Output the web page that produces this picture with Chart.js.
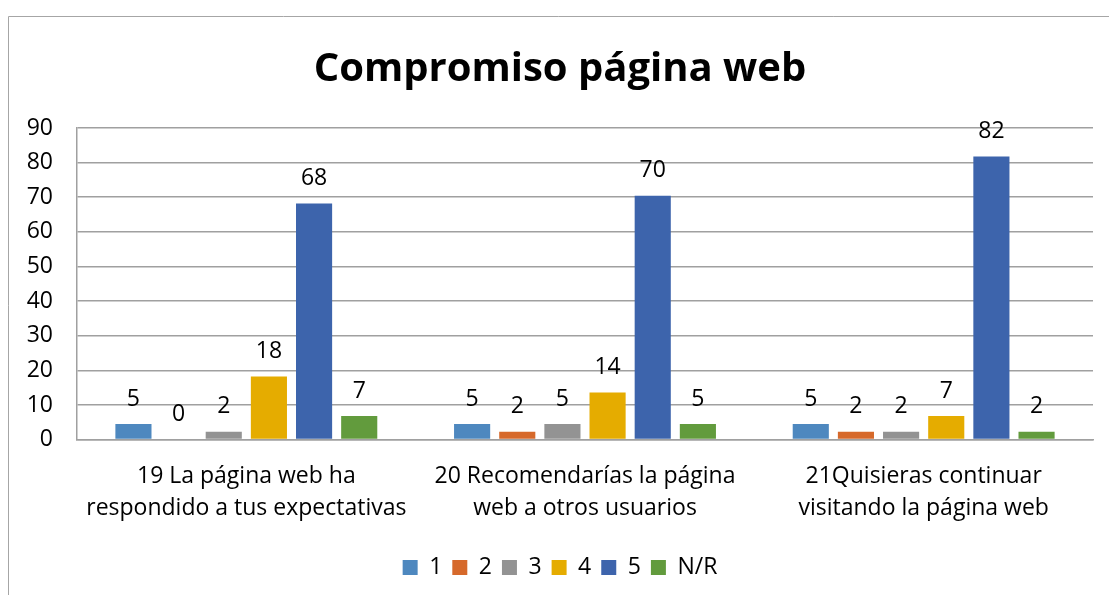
<!DOCTYPE html>
<html>
<head>
<meta charset="utf-8">
<script src="https://cdn.jsdelivr.net/npm/chart.js@4"></script>
<style>
  html, body { margin: 0; padding: 0; background: #fff; }
  #wrap { position: relative; width: 1109px; height: 595px; }
</style>
</head>
<body>
<div id="wrap"><canvas id="chart"></canvas></div>
<script>
// Compromiso página web - respuestas (%)
const categories = [
    ['19 La página web ha', 'respondido a tus expectativas'],
    ['20 Recomendarías la página', 'web a otros usuarios'],
    ['21Quisieras continuar', 'visitando la página web']
];
const seriesNames = ['1', '2', '3', '4', '5', 'N/R'];
const values1 = [4.5, 4.5, 4.5];
const values2 = [0, 2.3, 2.3];
const values3 = [2.3, 4.5, 2.3];
const values4 = [18.2, 13.6, 6.8];
const values5 = [68.2, 70.4, 81.8];
const valuesNR = [6.8, 4.5, 2.3];
const yTicks = [0, 10, 20, 30, 40, 50, 60, 70, 80, 90];

const colors = ['#4E88BF', '#D6692B', '#939393', '#E5AC00', '#3D64AC', '#629B3D'];
const FONT = "'Open Sans', 'Liberation Sans', sans-serif";
const TEXT_SIZE = 23;

// outer frame of the chart (left and top edges only visible)
const framePlugin = {
    id: 'frame',
    beforeDraw(chart) {
        const ctx = chart.ctx;
        ctx.save();
        ctx.strokeStyle = '#a6a6a6';
        ctx.lineWidth = 1;
        ctx.beginPath();
        ctx.moveTo(8.5, chart.height);
        ctx.lineTo(8.5, 16.5);
        ctx.lineTo(chart.width, 16.5);
        ctx.stroke();
        ctx.restore();
    }
};

// value labels above each bar
const barLabels = {
    id: 'barLabels',
    afterDatasetsDraw(chart) {
        const ctx = chart.ctx;
        ctx.save();
        ctx.font = TEXT_SIZE + 'px ' + FONT;
        ctx.fillStyle = '#000';
        ctx.textAlign = 'center';
        ctx.textBaseline = 'middle';
        chart.data.datasets.forEach((ds, i) => {
            const meta = chart.getDatasetMeta(i);
            meta.data.forEach((bar, j) => {
                ctx.fillText(String(Math.round(ds.data[j])), bar.x, bar.y - 25);
            });
        });
        ctx.restore();
    }
};

const allValues = [values1, values2, values3, values4, values5, valuesNR];

const chart = new Chart(document.getElementById('chart').getContext('2d'), {
    type: 'bar',
    data: {
        labels: categories,
        datasets: seriesNames.map((name, i) => ({
            label: name,
            data: allValues[i],
            backgroundColor: colors[i],
            borderWidth: 0,
            barPercentage: 0.8,
            categoryPercentage: 0.8
        }))
    },
    options: {
        responsive: true,
        maintainAspectRatio: false,
        animation: false,
        layout: {
            padding: { left: 27, right: 16, top: 0, bottom: 6 }
        },
        plugins: {
            title: {
                display: true,
                text: 'Compromiso página web',
                color: '#000',
                font: { family: FONT, size: 40, weight: 'bold' },
                padding: { top: 46, bottom: 34 }
            },
            legend: {
                display: true,
                position: 'bottom',
                labels: {
                    color: '#000',
                    font: { family: FONT, size: TEXT_SIZE },
                    boxWidth: 15,
                    boxHeight: 15,
                    padding: 10
                }
            },
            tooltip: { enabled: false }
        },
        scales: {
            x: {
                grid: { display: false, drawTicks: false },
                border: { display: true, color: '#a0a0a0', width: 1.5 },
                ticks: {
                    color: '#000',
                    font: { family: FONT, size: TEXT_SIZE, lineHeight: 1.4 },
                    padding: 21,
                    maxRotation: 0,
                    autoSkip: false
                }
            },
            y: {
                min: 0,
                max: 90,
                afterBuildTicks: axis => { axis.ticks = yTicks.map(v => ({ value: v })); },
                afterFit: axis => { axis.width = 50; },
                grid: { color: '#a0a0a0', lineWidth: 1.5, drawTicks: false },
                border: { display: true, color: '#a0a0a0', width: 1.5 },
                ticks: {
                    color: '#000',
                    font: { family: FONT, size: TEXT_SIZE },
                    padding: 24
                }
            }
        }
    },
    plugins: [framePlugin, barLabels]
});
</script>
</body>
</html>
